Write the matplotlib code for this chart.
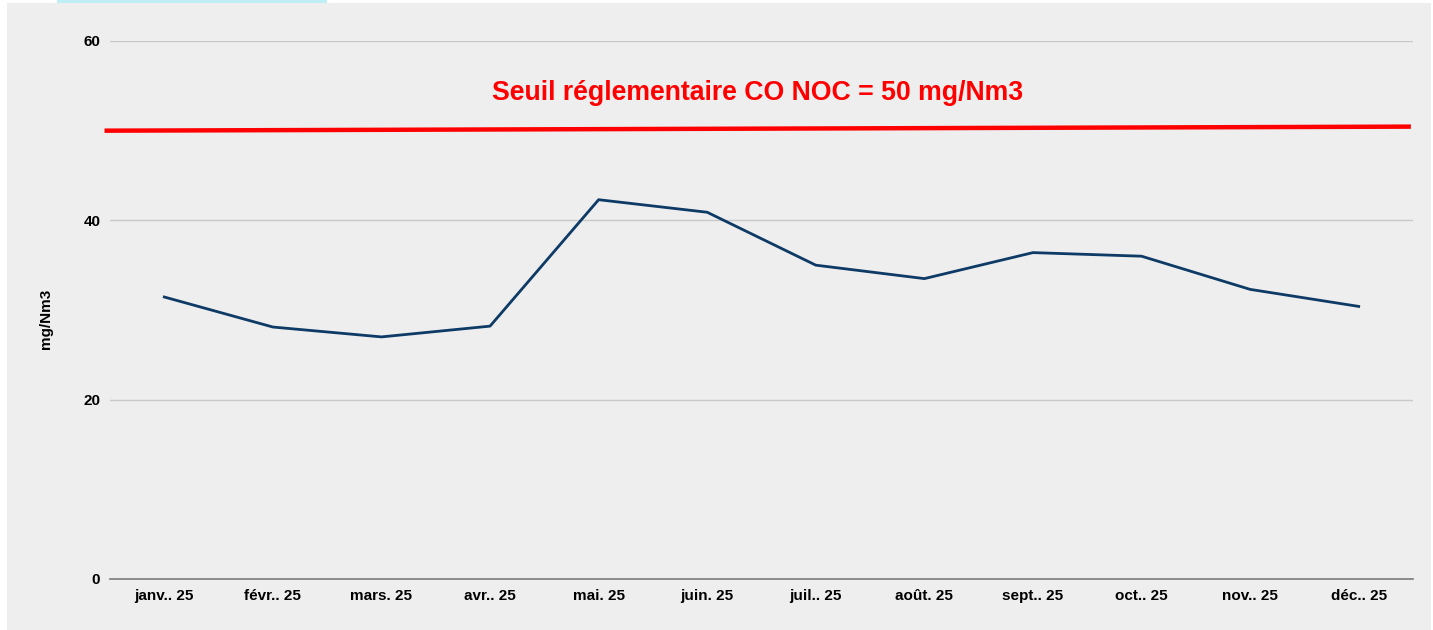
import numpy as np
from matplotlib import pyplot as plt
from matplotlib.patches import Rectangle

plt.rcParams['font.family'] = ['Liberation Sans', 'DejaVu Sans']

months = ['janv.. 25', 'févr.. 25', 'mars. 25', 'avr.. 25', 'mai. 25', 'juin. 25',
          'juil.. 25', 'août. 25', 'sept.. 25', 'oct.. 25', 'nov.. 25', 'déc.. 25']
coValues = [31.45, 28.1, 27.0, 28.2, 42.3, 40.9, 35.0, 33.5, 36.4, 36.0, 32.3, 30.4]
# hand-drawn threshold line in the original, slightly tilted
seuilX = [-0.53, 11.46]
seuilY = [50.0, 50.45]
seuilLabel = 'Seuil réglementaire CO NOC = 50 mg/Nm3'
yTicks = [0, 20, 40, 60]

fig = plt.figure(figsize=(14.33, 6.3), dpi=100)
fig.patch.set_facecolor('white')
#grey card behind the chart + the cyan strip on top
fig.patches.append(Rectangle((7/1433, 0), 1424/1433, 627/630, transform=fig.transFigure,
                             facecolor='#eeeeee', edgecolor='none', zorder=-10))
fig.patches.append(Rectangle((57/1433, 627/630), 270/1433, 3/630, transform=fig.transFigure,
                             facecolor='#bfeef6', edgecolor='none', zorder=-10))

ax = fig.add_axes([110/1433, 51/630, 1303/1433, 538/630])
ax.set_facecolor('none')

x = np.arange(len(months))
ax.plot(x, coValues, color='#0e3a66', lw=2.0, solid_joinstyle='round', zorder=3)
ax.plot(seuilX, seuilY, color='#ff0000', lw=3.2, clip_on=False, zorder=3)
ax.text(5.46, 54.2, seuilLabel, color='#ff0000', fontsize=19.2, fontweight='bold',
        ha='center', va='center')

ax.set_xlim(-0.5, 11.5)
ax.set_ylim(0, 60)
ax.set_yticks(yTicks)
ax.set_xticks(x)
ax.set_xticklabels(months, fontsize=11, fontweight='bold')
ax.set_yticklabels([str(t) for t in yTicks], fontsize=11, fontweight='bold')
ax.tick_params(axis='both', length=0)
ax.tick_params(axis='x', pad=7)
ax.tick_params(axis='y', pad=7)

ax.grid(axis='y', color='#c9c9c9', lw=1.0)
ax.set_axisbelow(True)
for s in ['top', 'right', 'left']:
    ax.spines[s].set_visible(False)
ax.spines['bottom'].set_color('#7a7a7a')
ax.spines['bottom'].set_linewidth(1.2)

ax.set_ylabel('mg/Nm3', fontsize=11, fontweight='bold')
ax.yaxis.set_label_coords(-0.044, 0.483)

fig.savefig('out.png', dpi=100, facecolor=fig.get_facecolor())
